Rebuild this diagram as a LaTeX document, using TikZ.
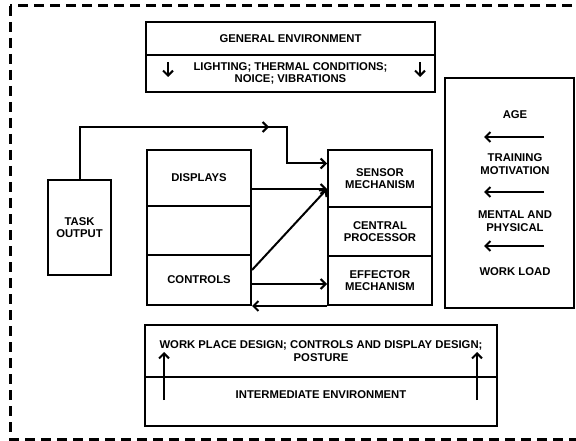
\documentclass[tikz,border=0pt]{standalone}
\usepackage{fontspec}
\setmainfont{Liberation Sans}
\usetikzlibrary{arrows.meta}

\newcommand{\boxfont}{\fontsize{11.3}{12.5}\selectfont\bfseries}

\begin{document}
\begin{tikzpicture}[x=1pt,y=-1pt,
  box/.style={draw, line width=2pt, inner sep=0pt, align=center, font=\boxfont},
  txt/.style={inner sep=0pt, align=center, font=\boxfont},
  arr/.style={line width=2pt, -{Straight Barb[length=5pt,width=10pt]}}]
\useasboundingbox (0,0) rectangle (576,441);
\draw[line width=3pt, dash pattern=on 10pt off 6pt] (10,6) rectangle (578,439);

% general environment
\node[box, minimum width=289pt, minimum height=33pt] (genv) at (290.5,38.5) {GENERAL ENVIRONMENT};
\node[box, minimum width=289pt, minimum height=37pt] (gcond) at (290.5,73.5) {LIGHTING; THERMAL CONDITIONS;\\NOICE; VIBRATIONS};
\draw[arr] (168,62) -- (168,77);
\draw[arr] (420,62) -- (420,77);

% machine side
\node[box, minimum width=63pt, minimum height=95pt] (task) at (79.5,227.5) {TASK\\OUTPUT};
\node[box, minimum width=104pt, minimum height=56pt] (disp) at (199,178) {DISPLAYS};
\node[box, minimum width=104pt, minimum height=49pt] (blank) at (199,230.5) {};
\node[box, minimum width=104pt, minimum height=50pt] (ctrl) at (199,280) {CONTROLS};

% human side
\node[box, minimum width=104pt, minimum height=57pt] (sensor) at (380,178.5) {SENSOR\\MECHANISM};
\node[box, minimum width=104pt, minimum height=49pt] (cpu) at (380,231.5) {CENTRAL\\PROCESSOR};
\node[box, minimum width=104pt, minimum height=49pt] (effector) at (380,280.5) {EFFECTOR\\MECHANISM};

% links
\coordinate (sin) at ([yshift=-11pt]disp.east -| sensor.west);
\draw[arr] (task.north) |- (287,127) |- ([yshift=15pt]sensor.west);
\draw[arr] (250,127) -- (269,127);
\draw[arr] ([yshift=-11pt]disp.east) -- (sin);
\draw[arr] ([yshift=10pt]ctrl.east) -- (sin);
\draw[arr] ([yshift=-4pt]ctrl.east) -- ([yshift=-4pt]ctrl.east -| effector.west);
\draw[arr] (effector.south west) -- (ctrl.south east);

% operator factors
\node[box, minimum width=129pt, minimum height=230pt] (person) at (509.5,193) {};
\node[txt] (age) at (515,115) {AGE};
\node[txt] (train) at (515,164) {TRAINING\\MOTIVATION};
\node[txt] (mental) at (515,221) {MENTAL AND\\PHYSICAL};
\node[txt] (load) at (515,272) {WORK LOAD};
\foreach \y in {137,192,246}
  \draw[arr] (544,\y) -- (484,\y);

% intermediate environment
\node[box, minimum width=352pt, minimum height=52pt] (wplace) at (321,351) {WORK PLACE DESIGN; CONTROLS AND DISPLAY DESIGN;\\POSTURE};
\node[box, minimum width=352pt, minimum height=49pt] (ienv) at (321,401.5) {};
\node[txt] (ienvlbl) at (321,395) {INTERMEDIATE ENVIRONMENT};
\draw[arr] (164,400) -- (164,352);
\draw[arr] (477,400) -- (477,352);
\end{tikzpicture}
\end{document}
